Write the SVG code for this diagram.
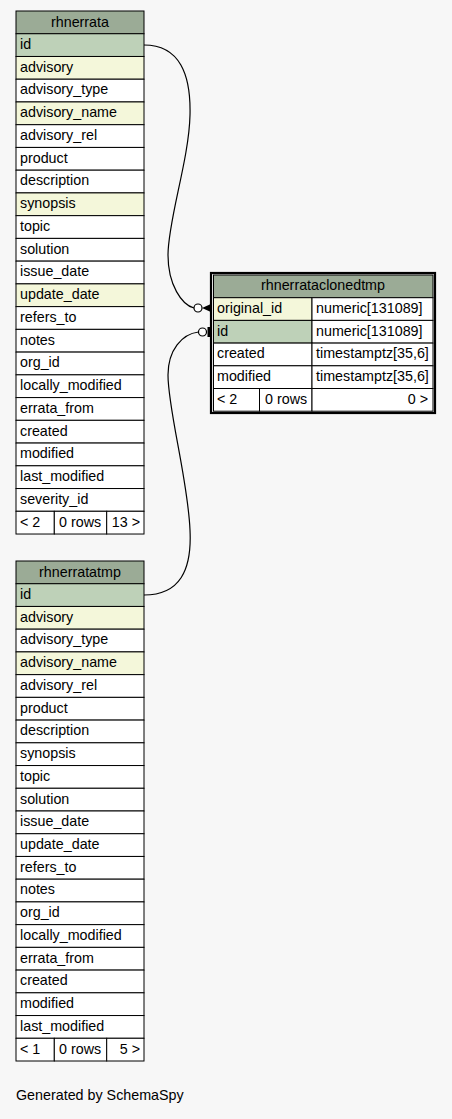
<svg xmlns="http://www.w3.org/2000/svg" width="452" height="1119" viewBox="0 0 452 1119">
<style>
text{font-family:"Liberation Sans",Arial,Helvetica,sans-serif;font-size:14.3px;fill:#000}
.h{fill:#9bab96;stroke:#000;stroke-width:1}
.pk{fill:#bed1b8;stroke:#000;stroke-width:1}
.ix{fill:#f4f7da;stroke:#000;stroke-width:1}
.c{fill:#fff;stroke:#000;stroke-width:1}
.ctr{text-anchor:middle}
.r{text-anchor:end}
.edge{fill:none;stroke:#000;stroke-width:1.2}
</style>
<rect width="452" height="1119" fill="#f7f7f7"/>

<g id="rhnerrata">
<rect class="h" x="16" y="11" width="128" height="22.74"/>
<text class="ctr" x="80" y="26.5">rhnerrata</text>
<rect class="pk" x="16" y="33.74" width="128" height="22.74"/><text x="20" y="49">id</text>
<rect class="ix" x="16" y="56.48" width="128" height="22.74"/><text x="20" y="71.7">advisory</text>
<rect class="c" x="16" y="79.22" width="128" height="22.74"/><text x="20" y="94.4">advisory_type</text>
<rect class="ix" x="16" y="101.96" width="128" height="22.74"/><text x="20" y="117.2">advisory_name</text>
<rect class="c" x="16" y="124.7" width="128" height="22.74"/><text x="20" y="139.9">advisory_rel</text>
<rect class="c" x="16" y="147.44" width="128" height="22.74"/><text x="20" y="162.6">product</text>
<rect class="c" x="16" y="170.18" width="128" height="22.74"/><text x="20" y="185.4">description</text>
<rect class="ix" x="16" y="192.92" width="128" height="22.74"/><text x="20" y="208.1">synopsis</text>
<rect class="c" x="16" y="215.66" width="128" height="22.74"/><text x="20" y="230.9">topic</text>
<rect class="c" x="16" y="238.4" width="128" height="22.74"/><text x="20" y="253.6">solution</text>
<rect class="c" x="16" y="261.14" width="128" height="22.74"/><text x="20" y="276.3">issue_date</text>
<rect class="ix" x="16" y="283.88" width="128" height="22.74"/><text x="20" y="299.1">update_date</text>
<rect class="c" x="16" y="306.62" width="128" height="22.74"/><text x="20" y="321.8">refers_to</text>
<rect class="c" x="16" y="329.36" width="128" height="22.74"/><text x="20" y="344.6">notes</text>
<rect class="c" x="16" y="352.1" width="128" height="22.74"/><text x="20" y="367.3">org_id</text>
<rect class="c" x="16" y="374.84" width="128" height="22.74"/><text x="20" y="390">locally_modified</text>
<rect class="c" x="16" y="397.58" width="128" height="22.74"/><text x="20" y="412.8">errata_from</text>
<rect class="c" x="16" y="420.32" width="128" height="22.74"/><text x="20" y="435.5">created</text>
<rect class="c" x="16" y="443.06" width="128" height="22.74"/><text x="20" y="458.3">modified</text>
<rect class="c" x="16" y="465.8" width="128" height="22.74"/><text x="20" y="481">last_modified</text>
<rect class="c" x="16" y="488.54" width="128" height="22.74"/><text x="20" y="503.7">severity_id</text>
<rect class="c" x="16" y="511.28" width="38.3" height="22.74"/><text x="20" y="526.5">&lt; 2</text>
<rect class="c" x="54.3" y="511.28" width="52.4" height="22.74"/><text x="59" y="526.5">0 rows</text>
<rect class="c" x="106.7" y="511.28" width="37.3" height="22.74"/><text class="r" x="140" y="526.5">13 &gt;</text>
</g>

<g id="rhnerratatmp">
<rect class="h" x="16" y="561" width="128" height="22.73"/>
<text class="ctr" x="80" y="576.5">rhnerratatmp</text>
<rect class="pk" x="16" y="583.73" width="128" height="22.73"/><text x="20" y="599">id</text>
<rect class="ix" x="16" y="606.45" width="128" height="22.73"/><text x="20" y="621.7">advisory</text>
<rect class="c" x="16" y="629.18" width="128" height="22.73"/><text x="20" y="644.4">advisory_type</text>
<rect class="ix" x="16" y="651.91" width="128" height="22.73"/><text x="20" y="667.1">advisory_name</text>
<rect class="c" x="16" y="674.64" width="128" height="22.73"/><text x="20" y="689.9">advisory_rel</text>
<rect class="c" x="16" y="697.36" width="128" height="22.73"/><text x="20" y="712.6">product</text>
<rect class="c" x="16" y="720.09" width="128" height="22.73"/><text x="20" y="735.3">description</text>
<rect class="c" x="16" y="742.82" width="128" height="22.73"/><text x="20" y="758">synopsis</text>
<rect class="c" x="16" y="765.55" width="128" height="22.73"/><text x="20" y="780.8">topic</text>
<rect class="c" x="16" y="788.27" width="128" height="22.73"/><text x="20" y="803.5">solution</text>
<rect class="c" x="16" y="811" width="128" height="22.73"/><text x="20" y="826.2">issue_date</text>
<rect class="c" x="16" y="833.73" width="128" height="22.73"/><text x="20" y="849">update_date</text>
<rect class="c" x="16" y="856.45" width="128" height="22.73"/><text x="20" y="871.7">refers_to</text>
<rect class="c" x="16" y="879.18" width="128" height="22.73"/><text x="20" y="894.4">notes</text>
<rect class="c" x="16" y="901.91" width="128" height="22.73"/><text x="20" y="917.1">org_id</text>
<rect class="c" x="16" y="924.64" width="128" height="22.73"/><text x="20" y="939.9">locally_modified</text>
<rect class="c" x="16" y="947.36" width="128" height="22.73"/><text x="20" y="962.6">errata_from</text>
<rect class="c" x="16" y="970.09" width="128" height="22.73"/><text x="20" y="985.3">created</text>
<rect class="c" x="16" y="992.82" width="128" height="22.73"/><text x="20" y="1008">modified</text>
<rect class="c" x="16" y="1015.55" width="128" height="22.73"/><text x="20" y="1030.8">last_modified</text>
<rect class="c" x="16" y="1038.27" width="38.3" height="22.73"/><text x="20" y="1053.5">&lt; 1</text>
<rect class="c" x="54.3" y="1038.27" width="52.4" height="22.73"/><text x="59" y="1053.5">0 rows</text>
<rect class="c" x="106.7" y="1038.27" width="37.3" height="22.73"/><text class="r" x="140" y="1053.5">5 &gt;</text>
</g>

<g id="rhnerrataclonedtmp">
<rect x="211" y="273" width="224" height="140" fill="#f7f7f7" stroke="#000" stroke-width="2.2"/>
<rect class="h" x="213.5" y="275" width="219.5" height="22.7"/>
<text class="ctr" x="323" y="290.3">rhnerrataclonedtmp</text>
<rect class="ix" x="213.5" y="297.7" width="98.5" height="22.7"/><text x="217" y="313">original_id</text>
<rect class="c" x="312" y="297.7" width="121" height="22.7"/><text x="316" y="313">numeric[131089]</text>
<rect class="pk" x="213.5" y="320.4" width="98.5" height="22.7"/><text x="217" y="335.7">id</text>
<rect class="c" x="312" y="320.4" width="121" height="22.7"/><text x="316" y="335.7">numeric[131089]</text>
<rect class="c" x="213.5" y="343.1" width="98.5" height="22.7"/><text x="217" y="358.4">created</text>
<rect class="c" x="312" y="343.1" width="121" height="22.7"/><text x="316" y="358.4">timestamptz[35,6]</text>
<rect class="c" x="213.5" y="365.8" width="98.5" height="22.7"/><text x="217" y="381.1">modified</text>
<rect class="c" x="312" y="365.8" width="121" height="22.7"/><text x="316" y="381.1">timestamptz[35,6]</text>
<rect class="c" x="213.5" y="388.5" width="46" height="22.7"/><text x="217" y="403.8">&lt; 2</text>
<rect class="c" x="259.5" y="388.5" width="52.5" height="22.7"/><text x="265" y="403.8">0 rows</text>
<rect class="c" x="312" y="388.5" width="121" height="22.7"/><text class="r" x="428" y="403.8">0 &gt;</text>
</g>

<g id="connectors">
<path class="edge" d="M144,45 C180,45 191,75 190,115 C189,160 168,220 168,255 C168,285 182,305 194,308"/>
<circle cx="198" cy="308" r="4" fill="#fff" stroke="#000" stroke-width="1.2"/>
<polygon points="202,308 212,303.5 212,312.5" fill="#000"/>
<path class="edge" d="M144,595 C180,595 192,570 190,530 C188,480 168,410 168,375 C168,350 182,334 198.5,332"/>
<circle cx="202.5" cy="332" r="4" fill="#fff" stroke="#000" stroke-width="1.2"/>
<rect x="207.5" y="327" width="3.5" height="10" fill="#000"/>
</g>

<text x="16" y="1100">Generated by SchemaSpy</text>
</svg>
